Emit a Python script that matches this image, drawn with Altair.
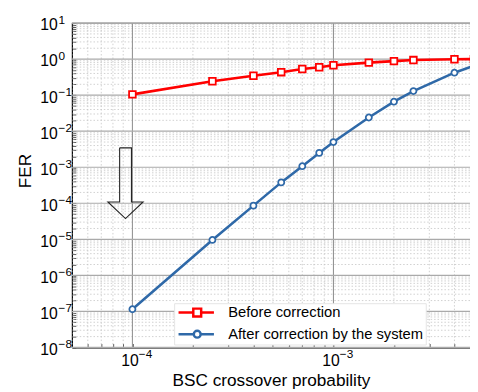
import altair as alt
import pandas as pd

# ---------------- data ----------------
x_prob = [1e-4, 2.5e-4, 4e-4, 5.5e-4, 7e-4, 8.5e-4, 1e-3, 1.5e-3, 2e-3, 2.5e-3, 4e-3, 5e-3]
fer_before = [0.105, 0.242, 0.344, 0.434, 0.533, 0.594, 0.673, 0.798, 0.88, 0.94, 0.99, 1.0]
fer_after = [1.15e-7, 9.6e-6, 8.6e-5, 3.8e-4, 1.07e-3, 2.5e-3, 5.0e-3, 0.024, 0.066, 0.13, 0.42, 0.65]
series_names = ["Before correction", "After correction by the system"]
series_colors = ["#ff0000", "#2f69a8"]

x_domain = [5e-5, 4.78e-3]
y_domain = [1e-8, 1e1]
x_major = [1e-4, 1e-3]
y_major = [1e-8, 1e-7, 1e-6, 1e-5, 1e-4, 1e-3, 1e-2, 1e-1, 1e0, 1e1]
x_minor = [5e-5, 6e-5, 7e-5, 8e-5, 9e-5, 2e-4, 3e-4, 4e-4, 5e-4, 6e-4, 7e-4, 8e-4, 9e-4,
           2e-3, 3e-3, 4e-3]
y_minor = [m * d for d in y_major[:-1] for m in (2, 3, 4, 5, 6, 7, 8, 9)]

# hollow "down" arrow annotation (data coordinates)
arrow_x = [8.64e-5, 9.89e-5, 9.89e-5, 1.13e-4, 9.24e-5, 7.55e-5, 8.64e-5, 8.64e-5]
arrow_y = [3.45e-3, 3.45e-3, 1.09e-4, 1.09e-4, 3.75e-5, 1.09e-4, 1.09e-4, 3.45e-3]

# legend symbols: line segment with marker (unit path, scaled by symbol size)
legend_paths = [
    "M-1,0L2,0M3.6,0L6.2,0M2,-0.8L3.6,-0.8L3.6,0.8L2,0.8Z",
    "M-1,0L2.1,0M3.5,0L6.2,0M2.1,0A0.7,0.7,0,1,0,3.5,0A0.7,0.7,0,1,0,2.1,0Z",
]

# ---------------- tables ----------------
df = pd.DataFrame({
    "x": x_prob * 2,
    "y": fer_before + fer_after,
    "series": [series_names[0]] * len(x_prob) + [series_names[1]] * len(x_prob),
})
xminor_df = pd.DataFrame({"x": x_minor})
yminor_df = pd.DataFrame({"y": y_minor})
xmajor_df = pd.DataFrame({"x": x_major})
ymajor_df = pd.DataFrame({"y": y_major})
arrow_df = pd.DataFrame({"x": arrow_x, "y": arrow_y, "k": list(range(len(arrow_x)))})

FONT = "Liberation Sans"
exp_expr = "replace(toString(round(log(datum.value)/LN10)), '-', '\u2212')"

xs = alt.Scale(type="log", domain=x_domain, nice=False)
ys = alt.Scale(type="log", domain=y_domain, nice=False)

# base axes: the "10" part of each label + titles
x_axis = alt.Axis(values=x_major, labelExpr="'10'", grid=False, ticks=False, orient="bottom",
                  domainColor="black", domainWidth=1.2, labelFont=FONT, labelFontSize=16,
                  labelColor="black", labelPadding=5, labelAlign="right", labelOffset=6,
                  titleFont=FONT, titleFontSize=17.5,
                  titleFontWeight="normal", titleColor="black", titleBaseline="middle",
                  titleY=34)
y_axis = alt.Axis(values=y_major, labelExpr="'10'", grid=False, ticks=False, orient="left",
                  domainColor="black", domainWidth=1.2, labelFont=FONT, labelFontSize=16,
                  labelColor="black", labelPadding=15, labelAlign="right", labelOffset=2,
                  titleFont=FONT, titleFontSize=17.5,
                  titleFontWeight="normal", titleColor="black", titleBaseline="middle",
                  titleX=-47, titleY=150, titleAngle=270)
# exponent axes: the superscript part
x_axis_exp = alt.Axis(values=x_major, labelExpr=exp_expr, grid=False, ticks=False, domain=False,
                      orient="bottom", labelFont=FONT, labelFontSize=12, labelColor="black",
                      labelPadding=1, labelAlign="left", labelOffset=6, title=None)
y_axis_exp = alt.Axis(values=y_major, labelExpr=exp_expr, grid=False, ticks=False, domain=False,
                      orient="left", labelFont=FONT, labelFontSize=12, labelColor="black",
                      labelPadding=14, labelAlign="left", labelOffset=-4, title=None)
# inward tick marks (axis shifted into the plot by its tick length)
x_axis_ticks = alt.Axis(values=x_minor + x_major, labels=False, grid=False, domain=False,
                        orient="bottom", ticks=True, tickSize=4, tickColor="#333333",
                        tickWidth=0.8, offset=-4, title=None)
y_axis_ticks = alt.Axis(values=y_minor + y_major, labels=False, grid=False, domain=False,
                        orient="left", ticks=True, tickSize=4, tickColor="#333333",
                        tickWidth=0.8, offset=-4, title=None)

X = alt.X("x:Q", scale=xs, axis=x_axis, title="BSC crossover probability")
Y = alt.Y("y:Q", scale=ys, axis=y_axis, title="FER")
Xe = alt.X("x:Q", scale=xs, axis=x_axis_exp, title=None)
Ye = alt.Y("y:Q", scale=ys, axis=y_axis_exp, title=None)
Xt = alt.X("x:Q", scale=xs, axis=x_axis_ticks, title=None)
Yt = alt.Y("y:Q", scale=ys, axis=y_axis_ticks, title=None)

dot = [1.5, 2]
minor_v = alt.Chart(xminor_df).mark_rule(color="#c4c4c4", strokeWidth=0.8, strokeDash=dot).encode(x=X)
minor_h = alt.Chart(yminor_df).mark_rule(color="#c4c4c4", strokeWidth=0.8, strokeDash=dot).encode(y=Y)
major_v = alt.Chart(xmajor_df).mark_rule(color="#8a8a8a", strokeWidth=1).encode(x=X)
major_h = alt.Chart(ymajor_df).mark_rule(color="#aaaaaa", strokeWidth=1.2).encode(y=Y)

arrow = alt.Chart(arrow_df).mark_line(color="#222222", strokeWidth=1.1).encode(
    x=X, y=Y, order="k:Q")

layers = [minor_v, minor_h, major_v, major_h, arrow]
for name, col, shp in [(series_names[0], series_colors[0], "square"),
                       (series_names[1], series_colors[1], "circle")]:
    sub = df[df["series"] == name]
    layers.append(alt.Chart(sub).mark_line(color=col, strokeWidth=2.6, clip=True).encode(x=X, y=Y))
    layers.append(alt.Chart(sub).mark_point(shape=shp, color=col, fill="white", filled=False,
                                            strokeWidth=1.8, size=46 if shp == "square" else 38,
                                            opacity=1, clip=True).encode(x=X, y=Y))

legend_layer = alt.Chart(df).transform_filter("false").mark_point(strokeWidth=2.5, opacity=1).encode(
    x=X, y=Y,
    color=alt.Color("series:N", scale=alt.Scale(domain=series_names, range=series_colors),
                    legend=alt.Legend(orient="none", legendX=104, legendY=285, title=None,
                                      fillColor="white", strokeColor="#e4e4e4", padding=2,
                                      symbolSize=100, symbolStrokeWidth=2.5,
                                      symbolFillColor="white", labelFont=FONT,
                                      labelFontSize=15, labelColor="black", labelOffset=38,
                                      labelLimit=400, rowPadding=4)),
    shape=alt.Shape("series:N", scale=alt.Scale(domain=series_names, range=legend_paths)),
)
layers.append(legend_layer)

top_border = alt.Chart(ymajor_df).transform_filter("datum.y == 10").mark_rule(
    color="#999999", strokeWidth=1).encode(y=Y)
layers.append(top_border)

main = alt.layer(*layers)
exp_layer = alt.Chart(df).transform_filter("false").mark_point().encode(x=Xe, y=Ye)
tick_layer = alt.Chart(df).transform_filter("false").mark_point().encode(x=Xt, y=Yt)

chart = alt.layer(main, exp_layer, tick_layer).resolve_axis(x="independent", y="independent").properties(
    width=405, height=330,
    autosize=alt.AutoSizeParams(type="none"),
    padding={"left": 65, "top": 12, "right": 0, "bottom": 42},
).configure_view(stroke=None)

chart.save("out.html", embed_options={"renderer": "svg", "actions": False})
